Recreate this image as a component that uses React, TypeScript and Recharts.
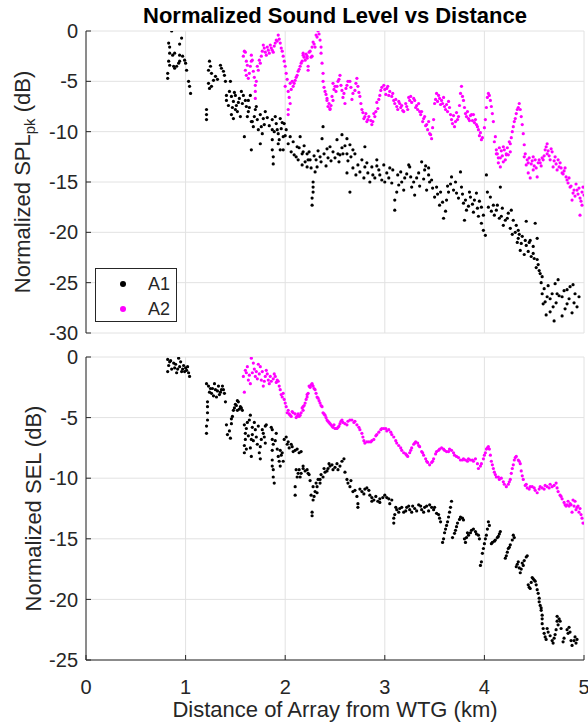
import React from 'react';
import { ScatterChart, Scatter, XAxis, YAxis, CartesianGrid, Legend, Label } from 'recharts';

const xTicks = [0, 1, 2, 3, 4, 5];
const splTicks = [-30, -25, -20, -15, -10, -5, 0];
const selTicks = [-25, -20, -15, -10, -5, 0];

// Normalized SPL_pk, array A1 (km, dB)
const splA1: [number, number][] = [
  [0.86,0],[0.83,-1.2],[0.84,-1.6],[0.94,-1.3],[0.96,-0.7],[0.84,-2.2],[0.87,-2.4],[0.89,-2.2],[0.83,-3.0],[0.84,-3.4],[0.88,-3.5],[0.91,-3.5],[0.93,-3.2],[0.94,-2.4],[0.97,-2.5],[0.99,-2.9],[1.0,-3.2],[1.01,-3.9],[0.82,-4.2],[0.82,-4.7],[1.03,-5.0],[1.04,-5.5],[1.05,-6.2],[0.89,-3.7],[0.94,-3.0],
  [1.21,-7.8],[1.21,-8.3],[1.21,-8.8],[1.24,-3.0],[1.25,-3.5],[1.23,-3.9],[1.26,-4.2],[1.23,-5.2],[1.24,-5.7],[1.28,-4.9],[1.30,-4.5],[1.32,-4.8],[1.35,-3.4],[1.36,-3.7],[1.38,-4.0],[1.39,-4.4],[1.40,-5.0],[1.45,-5.0],[1.26,-5.5],
  [1.41,-6.4],[1.41,-6.9],[1.43,-7.4],[1.46,-6.5],[1.48,-7.0],[1.50,-7.8],[1.46,-8.3],[1.48,-8.7],[1.51,-7.4],[1.54,-6.7],[1.56,-6.0],[1.58,-6.4],[1.60,-6.9],[1.61,-7.5],[1.63,-8.0],[1.59,-10.5],[1.66,-11.8],[1.68,-9.5],[1.67,-9.0],[1.70,-7.8],[1.71,-7.5],[1.75,-8.3],[1.76,-9.5],[1.75,-11.2],[1.78,-8.7],[1.80,-8.0],[1.55,-8.5],[1.63,-6.9],[1.65,-6.4],[1.50,-6.4],
  [1.44,-6.0],[1.47,-7.6],[1.49,-6.1],[1.52,-8.0],[1.53,-7.1],[1.57,-7.2],[1.62,-8.5],[1.64,-7.6],[1.66,-9.0],[1.69,-8.5],[1.72,-8.8],[1.73,-9.8],[1.77,-10.2],[1.79,-9.3],[1.82,-8.6],[1.84,-9.4],
  [1.87,-8.8],[1.87,-9.8],[1.87,-10.8],[1.87,-11.8],[1.88,-12.5],[1.88,-13.2],[1.90,-8.5],[1.91,-9.2],[1.93,-10.2],[1.95,-8.7],[1.96,-9.7],[1.98,-10.5],[1.99,-9.2],[2.01,-9.8],[1.93,-11.2],[1.95,-11.8],[1.98,-11.8],[2.05,-10.5],[2.08,-11.0],[2.12,-11.5],[2.15,-10.5],[2.11,-12.5],[2.13,-12.8],[2.17,-12.2],[2.22,-12.2],[2.25,-12.8],[2.22,-13.5],[2.32,-13.5],[2.35,-12.5],[2.38,-9.5],[2.37,-10.7],[2.42,-11.7],[2.45,-11.5],[2.48,-12.0],[2.53,-12.2],[2.43,-12.6],
  [1.89,-10.0],[1.92,-9.8],[1.94,-10.8],[1.97,-9.1],[2.00,-10.4],[2.03,-11.2],[2.06,-12.0],[2.09,-12.3],[2.14,-11.6],[2.19,-11.4],[2.20,-13.0],[2.24,-12.0],[2.26,-13.6],[2.29,-12.4],[2.31,-12.8],[2.33,-11.9],[2.36,-13.0],[2.39,-12.2],[2.41,-13.4],[2.46,-12.9],[2.50,-12.6],[2.54,-13.0],
  [2.17,-13.3],[2.30,-14.0],[2.28,-15.0],[2.28,-15.5],[2.28,-16.0],[2.27,-16.6],[2.27,-17.3],[2.18,-12.0],[2.23,-12.8],
  [2.52,-10.8],[2.57,-10.3],[2.62,-10.7],[2.65,-11.3],[2.68,-11.8],[2.80,-11.5],[2.58,-12.2],[2.92,-12.8],[3.25,-13.5],[3.44,-13.6],[2.55,-12.3],[2.62,-12.2],
  [2.57,-11.6],[2.60,-11.4],[2.63,-12.9],[2.66,-12.5],[2.70,-12.2],[2.71,-14.3],[2.75,-14.0],[2.77,-12.8],[2.80,-13.5],[2.83,-14.1],[2.87,-13.5],[2.90,-14.6],[2.92,-13.4],[2.95,-14.3],[2.99,-13.3],[3.00,-15.0],[3.04,-14.6],[3.07,-15.1],[3.08,-13.8],
  [2.65,-16.0],[2.62,-14.1],[2.68,-13.6],[2.73,-13.3],[2.79,-14.6],[2.82,-13.1],[2.85,-15.0],[2.88,-14.3],[2.94,-13.8],[2.97,-14.8],[3.02,-14.1],[3.05,-13.6],
  [3.10,-17.8],[3.10,-16.8],[3.12,-16.0],[3.14,-15.3],[3.17,-15.0],[3.20,-14.6],[3.24,-13.3],[3.27,-15.5],[3.30,-16.3],
  [3.13,-14.3],[3.16,-14.0],[3.19,-15.8],[3.22,-14.2],[3.26,-14.5],[3.29,-15.0],[3.32,-14.6],[3.35,-15.4],[3.39,-14.7],[3.41,-13.4],[3.45,-15.0],[3.48,-15.6],
  [3.34,-14.1],[3.37,-13.0],[3.40,-13.8],[3.44,-14.3],[3.47,-14.8],[3.42,-15.8],
  [3.50,-16.5],[3.52,-15.5],[3.55,-17.3],[3.59,-18.6],[3.61,-17.9],[3.62,-16.8],[3.64,-16.0],[3.67,-14.5],
  [3.53,-16.2],[3.56,-16.0],[3.58,-17.0],[3.63,-15.4],[3.66,-15.2],[3.69,-15.8],[3.71,-15.0],[3.74,-16.6],[3.78,-16.2],[3.81,-16.8],[3.84,-17.4],[3.85,-16.0],[3.88,-17.2],[3.90,-16.8],[3.93,-17.6],[3.95,-16.9],[3.99,-18.3],
  [3.72,-16.1],[3.76,-14.0],[3.77,-15.5],[3.79,-17.1],[3.80,-18.8],[3.82,-17.8],
  [3.86,-16.5],[3.89,-18.0],[3.92,-16.1],[3.94,-18.4],[3.97,-19.1],[3.99,-19.8],[4.01,-20.3],[3.97,-17.5],
  [4.02,-14.3],[4.06,-16.5],[4.09,-17.3],[4.12,-17.8],[4.16,-15.5],[4.17,-18.4],[4.21,-18.8],
  [4.03,-16.0],[4.04,-17.5],[4.07,-17.9],[4.10,-18.3],[4.13,-17.3],[4.15,-18.6],[4.18,-17.6],[4.19,-19.3],[4.23,-18.6],[4.26,-19.6],[4.28,-20.2],[4.31,-20.0],[4.33,-21.0],[4.35,-20.2],[4.38,-20.4],[4.40,-22.2],[4.41,-20.8],[4.45,-21.0],[4.47,-22.4],[4.50,-22.6],[4.52,-23.5],[4.55,-23.8],
  [4.24,-18.1],[4.27,-17.8],[4.29,-18.8],[4.32,-19.3],[4.34,-19.8],
  [4.34,-20.6],[4.37,-21.1],[4.36,-21.8],[4.42,-21.3],[4.46,-20.8],[4.49,-21.4],[4.44,-21.9],[4.53,-20.6],[4.42,-18.9],[4.51,-19.1],
  [4.49,-22.1],[4.53,-22.7],[4.54,-23.2],[4.56,-24.1],
  [4.58,-24.4],[4.58,-26.1],[4.59,-27.1],[4.63,-26.4],[4.68,-26.1],[4.71,-25.1],[4.74,-24.7],[4.73,-26.1],[4.78,-26.4],[4.83,-25.7],[4.86,-25.4],[4.91,-26.1],[4.93,-27.4],[4.69,-27.4],[4.83,-27.1],
  [4.57,-25.0],[4.60,-25.6],[4.61,-26.9],[4.64,-25.3],[4.66,-26.6],[4.72,-27.0],[4.75,-26.3],[4.80,-25.8],[4.81,-27.6],[4.85,-26.6],[4.89,-25.2],[4.90,-27.0],[4.95,-26.4],
  [4.62,-28.2],[4.70,-28.8],[4.78,-28.3],[4.88,-28.0],[4.66,-27.9],
];

// Normalized SPL_pk, array A2 (km, dB)
const splA2: [number, number][] = [
  [1.58,-2.5],[1.60,-2.1],[1.61,-3.0],[1.60,-3.9],[1.61,-4.4],[1.63,-4.7],[1.65,-3.5],[1.66,-2.4],[1.67,-2.9],[1.68,-4.0],[1.70,-5.4],[1.70,-6.0],[1.70,-6.7],[1.73,-3.9],[1.75,-3.2],[1.76,-2.5],[1.78,-1.4],[1.80,-2.1],[1.83,-1.9],[1.86,-1.7],[1.88,-2.1],[1.90,-1.2],[1.91,-0.9],[1.93,-0.4],[1.95,-1.2],[1.96,-1.7],[1.98,-2.5],[2.00,-3.5],[2.01,-4.2],[2.00,-5.5],[2.03,-6.0],[2.05,-5.2],[2.08,-5.5],[2.10,-4.9],[2.05,-7.2],[2.03,-7.8],[2.03,-8.3],[2.12,-4.4],[2.15,-3.5],[2.17,-3.0],[2.18,-2.4],[2.22,-2.5],[2.24,-2.1],[2.27,-1.6],[2.28,-1.1],[2.31,-0.4],[2.33,0],[2.23,-3.5],[2.35,-0.9],[2.36,-2.2],[2.37,-3.2],[2.38,-4.2],[2.38,-5.0],[2.40,-6.0],[2.42,-6.7],[2.43,-7.5],[2.45,-7.8],[2.48,-6.9],[2.50,-5.5],[2.53,-5.0],
  [1.59,-2.0],[1.62,-3.4],[1.64,-4.2],[1.66,-3.0],[1.69,-4.6],[1.71,-5.0],[1.72,-3.5],[1.74,-2.9],[1.77,-2.0],[1.79,-1.7],[1.81,-2.4],[1.82,-1.6],[1.84,-2.2],[1.85,-1.4],[1.87,-1.9],[1.89,-1.5],[1.92,-1.0],[1.94,-0.8],[1.97,-2.0],[1.99,-3.0],[2.02,-4.8],[2.04,-6.6],[2.06,-5.8],[2.07,-5.0],[2.09,-5.2],[2.11,-4.6],[2.13,-4.0],[2.14,-3.8],[2.16,-3.2],[2.19,-2.6],[2.20,-2.9],[2.21,-2.3],[2.25,-2.0],[2.26,-2.6],[2.29,-1.3],[2.32,-0.6],[2.34,-0.3],
  [2.18,-2.2],[2.22,-2.7],[2.23,-3.9],[2.27,-2.5],[2.30,-1.6],[2.36,-1.6],[2.42,-6.9],[2.45,-7.7],[2.48,-5.2],[2.52,-5.5],[2.55,-4.4],[2.57,-5.9],[2.60,-7.2],[2.62,-5.4],[2.65,-5.0],[2.68,-6.2],[2.72,-4.7],[2.75,-6.5],[2.77,-7.8],[2.80,-8.5],[2.83,-8.8],[2.87,-9.3],[2.90,-8.5],[2.93,-7.7],[2.95,-6.4],[2.99,-5.4],[3.02,-5.7],[3.05,-6.0],[3.09,-6.9],[3.12,-7.5],[3.15,-7.2],[3.19,-8.0],[3.22,-7.5],[3.25,-6.9],[3.29,-6.7],[3.32,-7.4],[3.35,-8.0],[3.39,-8.7],[3.42,-9.3],[3.45,-10.2],[3.47,-10.7],[3.49,-8.8],[3.50,-7.2],[3.54,-6.4],[3.57,-6.9],[3.60,-7.5],[3.64,-7.0],[3.67,-8.8],[3.70,-9.5],[3.74,-8.5],[3.77,-5.5],[3.79,-6.9],[3.81,-8.2],[3.84,-8.7],[3.87,-8.3],[3.91,-8.8],[3.94,-9.8],[3.97,-10.8],[4.01,-8.8],[4.04,-6.2],[4.06,-6.9],[4.08,-8.2],[4.11,-10.5],[4.13,-12.2],[4.16,-13.5],[4.19,-11.5],[4.22,-12.2],[4.26,-11.2],[4.29,-9.5],[4.32,-8.2],[4.35,-7.2],[4.37,-8.5],[4.39,-10.2],[4.41,-12.2],[4.44,-13.1],[4.49,-12.5],[4.54,-13.1],[4.59,-12.8],[4.63,-11.2],[4.67,-11.7],[4.71,-12.5],[4.76,-13.1],[4.81,-13.6],
  [2.39,-5.6],[2.41,-6.3],[2.44,-7.2],[2.46,-7.4],[2.47,-6.5],[2.49,-5.8],[2.51,-6.0],[2.54,-4.8],[2.56,-5.4],[2.58,-6.6],[2.59,-6.2],[2.61,-5.7],[2.63,-5.0],[2.66,-5.6],[2.67,-6.8],[2.70,-5.9],[2.71,-5.2],[2.73,-5.5],[2.74,-6.1],[2.76,-7.2],[2.78,-8.1],[2.79,-8.7],[2.81,-8.2],[2.82,-9.0],[2.84,-8.5],[2.86,-8.9],[2.88,-9.0],[2.89,-8.2],[2.91,-8.0],[2.92,-7.1],[2.94,-6.8],[2.96,-5.9],[2.97,-5.6],[3.00,-5.8],[3.01,-6.3],[3.03,-5.5],[3.04,-6.4],[3.07,-6.5],[3.08,-6.2],[3.10,-7.2],[3.11,-6.8],[3.13,-7.8],[3.14,-7.0],[3.16,-7.6],[3.17,-7.4],[3.18,-7.9],[3.21,-7.2],[3.23,-7.8],[3.24,-6.6],[3.26,-6.5],[3.27,-7.1],[3.30,-6.9],[3.31,-7.6],[3.33,-7.8],[3.34,-7.2],[3.36,-8.3],[3.37,-8.0],[3.38,-9.0],[3.40,-8.5],[3.41,-9.4],[3.43,-9.8],[3.44,-9.0],[3.46,-10.3],[3.48,-9.6],
  [3.51,-6.8],[3.52,-6.2],[3.53,-7.0],[3.55,-6.7],[3.56,-7.3],[3.58,-7.2],[3.59,-6.6],[3.61,-7.8],[3.62,-7.3],[3.63,-8.0],[3.65,-7.6],[3.66,-8.3],[3.68,-9.2],[3.69,-8.4],[3.71,-9.0],[3.72,-8.1],[3.73,-8.8],[3.75,-7.4],[3.76,-6.2],[3.78,-6.5],[3.80,-7.6],[3.82,-8.5],[3.83,-8.0],[3.85,-8.9],[3.86,-8.4],[3.88,-8.9],[3.89,-8.3],[3.90,-9.1],[3.92,-9.3],[3.93,-9.5],[3.95,-10.4],[3.96,-10.1],[3.98,-10.6],[4.00,-9.6],[4.02,-7.6],[4.03,-6.6],[4.05,-6.4],[4.07,-7.5],[4.09,-9.0],[4.10,-11.0],
  [4.12,-11.8],[4.14,-12.6],[4.15,-11.6],[4.17,-11.9],[4.18,-12.4],[4.20,-11.8],[4.21,-12.8],[4.23,-11.6],[4.24,-12.3],[4.25,-11.0],[4.27,-10.6],[4.28,-10.0],[4.30,-9.0],[4.31,-8.7],[4.33,-7.8],[4.34,-7.6],[4.36,-7.8],[4.38,-9.3],[4.40,-11.3],[4.43,-12.8],[4.45,-12.6],[4.47,-13.2],[4.48,-12.9],[4.50,-13.4],[4.51,-12.8],[4.52,-13.6],[4.55,-12.8],[4.57,-13.4],[4.58,-12.6],[4.60,-12.4],[4.61,-11.8],[4.62,-11.5],[4.64,-11.9],[4.65,-12.4],[4.68,-12.0],[4.70,-12.9],[4.72,-13.2],[4.74,-12.8],[4.75,-13.5],[4.77,-13.6],[4.79,-14.2],[4.80,-13.9],[4.82,-14.5],[4.84,-15.1],[4.85,-14.6],[4.87,-15.4],[4.90,-15.8],[4.91,-16.4],[4.92,-15.2],[4.94,-16.2],[4.95,-15.6],[4.97,-16.9],[4.98,-16.0],[5.0,-16.3],
  [4.12,-12.2],[4.16,-12.6],[4.19,-13.0],[4.22,-12.3],[4.26,-12.0],[4.14,-13.1],[4.40,-12.5],[4.42,-13.3],[4.44,-14.1],[4.46,-14.6],[4.49,-13.8],[4.53,-14.5],[4.56,-13.1],[4.63,-12.2],[4.66,-12.8],[4.69,-13.5],[4.73,-13.8],[4.78,-14.1],[4.83,-14.8],[4.86,-15.5],[4.89,-16.1],[4.93,-15.8],[4.96,-16.6],[4.99,-15.5],[4.96,-18.3],[4.98,-17.3],[4.88,-16.8],
];

// Normalized SEL, array A1 (km, dB)
const selA1: [number, number][] = [
  [0.82,-0.2],[0.83,-0.7],[0.82,-1.2],[0.84,-0.4],[0.88,-0.5],[0.89,-0.9],[0.91,-1.3],[0.93,-0.1],[0.94,-0.8],[0.96,-1.2],[0.98,-0.7],[1.00,-0.9],[1.03,-1.3],[1.04,-1.6],
  [0.85,-0.3],[0.86,-1.0],[0.90,-0.6],[0.92,-1.0],[0.95,-0.4],[0.97,-1.0],[0.99,-1.2],[1.01,-1.1],[1.02,-0.8],
  [1.21,-2.2],[1.22,-3.7],[1.22,-4.1],[1.22,-4.6],[1.22,-5.2],[1.21,-5.7],[1.21,-6.3],[1.25,-2.6],[1.26,-3.0],[1.30,-2.7],[1.31,-3.3],[1.33,-2.4],[1.35,-2.9],[1.37,-2.4],[1.39,-3.0],[1.40,-3.7],
  [1.23,-2.4],[1.24,-2.9],[1.27,-2.6],[1.28,-3.2],[1.29,-2.2],[1.32,-2.8],[1.34,-3.1],[1.36,-2.7],[1.38,-2.7],
  [1.41,-5.6],[1.42,-6.4],[1.45,-6.7],[1.46,-5.5],[1.47,-4.9],[1.49,-4.2],[1.51,-4.0],[1.53,-3.7],[1.55,-4.1],[1.57,-4.4],[1.52,-4.4],
  [1.48,-4.4],[1.50,-3.9],[1.52,-3.6],[1.54,-4.3],[1.56,-4.2],[1.46,-5.1],[1.44,-6.1],
  [1.59,-5.6],[1.60,-6.3],[1.59,-7.3],[1.59,-7.9],[1.61,-5.9],[1.64,-5.2],[1.65,-4.8],[1.66,-6.8],[1.67,-6.4],[1.66,-8.2],[1.70,-6.0],[1.73,-5.7],[1.75,-8.4],[1.75,-7.4],[1.76,-6.8],[1.78,-6.3],[1.80,-5.7],[1.81,-5.6],
  [1.60,-6.8],[1.61,-7.6],[1.62,-5.4],[1.63,-6.5],[1.65,-7.5],[1.67,-5.8],[1.68,-6.9],[1.69,-5.4],[1.71,-6.6],[1.72,-7.2],[1.74,-7.9],[1.77,-6.0],[1.79,-6.6],[1.80,-7.1],
  [1.87,-6.0],[1.87,-6.8],[1.87,-7.7],[1.87,-8.5],[1.88,-9.3],[1.88,-9.9],[1.89,-10.4],[1.91,-6.3],[1.93,-8.2],[1.95,-7.7],[1.96,-8.1],[1.98,-8.6],[1.95,-9.0],[2.01,-6.6],[2.03,-7.0],[2.07,-7.4],[2.10,-7.7],[2.16,-7.8],
  [1.86,-5.8],[1.87,-9.0],[1.88,-7.2],[1.90,-6.9],[1.92,-7.6],[1.94,-8.6],[1.97,-7.9],[1.99,-6.8],[2.02,-7.2],[2.04,-7.5],[2.06,-7.2],[2.08,-7.8],[2.12,-7.6],[2.14,-7.9],
  [2.11,-9.3],[2.13,-9.6],[2.15,-9.9],[2.10,-10.7],[2.10,-11.4],[2.18,-9.2],[2.22,-9.3],[2.24,-9.7],
  [2.12,-9.9],[2.14,-9.3],[2.16,-9.6],[2.20,-9.4],[2.25,-10.2],[2.26,-11.4],[2.29,-11.5],[2.31,-10.4],[2.33,-10.1],[2.36,-9.7],[2.39,-9.2],[2.42,-9.4],[2.44,-8.8],[2.50,-9.1],[2.53,-9.3],[2.57,-8.6],[2.60,-9.5],[2.63,-10.4],[2.66,-10.2],[2.70,-11.0],[2.75,-10.9],[2.79,-11.3],[2.80,-10.9],[2.84,-11.0],[2.87,-11.6],[2.91,-11.5],[2.93,-11.9],[2.98,-11.6],[3.02,-11.6],[3.05,-12.1],
  [2.28,-11.8],[2.30,-11.1],[2.32,-10.7],[2.35,-10.1],[2.38,-9.9],[2.40,-9.5],[2.43,-9.2],[2.47,-8.9],[2.52,-8.8],[2.55,-9.0],
  [2.18,-9.0],[2.23,-9.6],[2.28,-10.7],[2.32,-11.2],[2.35,-10.4],[2.45,-9.0],[2.48,-9.3],[2.59,-8.4],[2.62,-10.1],[2.65,-10.7],[2.68,-11.1],[2.72,-11.5],[2.73,-12.1],[2.77,-11.1],[2.82,-10.8],[2.85,-11.4],[2.89,-11.8],[2.95,-11.7],[3.00,-11.4],[3.04,-11.7],[3.07,-11.8],
  [2.27,-12.8],[2.27,-13.1],[2.73,-12.4],[2.87,-11.9],[2.95,-12.0],[3.09,-13.3],[3.09,-13.7],[3.12,-12.6],[3.15,-12.5],[3.19,-12.8],[3.22,-12.4],[3.25,-12.6],[3.30,-12.5],[3.34,-12.2],[3.37,-12.6],[3.40,-12.4],[3.45,-12.2],[3.49,-12.6],[3.52,-12.9],[3.55,-13.3],
  [3.10,-13.0],[3.11,-12.4],[3.14,-12.8],[3.17,-12.4],[3.21,-12.7],[3.24,-12.3],[3.27,-12.8],[3.28,-12.3],[3.32,-12.7],[3.36,-12.3],[3.39,-12.8],[3.42,-12.3],[3.44,-12.7],[3.47,-12.4],[3.50,-12.4],[3.54,-13.0],[3.56,-13.6],
  [3.58,-15.3],[3.60,-14.5],[3.62,-13.9],[3.64,-13.2],[3.66,-12.4],[3.67,-11.9],[3.70,-14.55],[3.72,-14.0],[3.76,-13.2],[3.79,-13.45],[3.81,-15.3],[3.84,-14.7],[3.87,-14.3],[3.91,-14.4],[3.94,-14.7],
  [3.59,-15.0],[3.61,-14.2],[3.63,-13.6],[3.65,-12.8],[3.68,-14.9],[3.71,-14.3],[3.73,-13.7],[3.75,-13.4],[3.78,-13.3],[3.80,-15.0],[3.82,-14.9],[3.83,-14.5],[3.86,-14.5],[3.89,-14.2],[3.92,-14.6],[3.95,-15.0],[3.96,-17.2],
  [3.97,-16.9],[3.98,-16.2],[4.00,-15.4],[4.02,-14.7],[4.04,-13.6],[4.07,-15.4],[4.11,-15.1],[4.14,-14.8],[4.16,-14.4],
  [3.99,-15.8],[4.01,-15.0],[4.03,-14.2],[4.05,-13.9],[4.08,-15.3],[4.10,-15.2],[4.13,-14.9],[4.15,-14.6],
  [4.21,-16.6],[4.23,-16.1],[4.26,-15.5],[4.29,-14.7],[4.32,-17.3],[4.34,-16.9],[4.36,-17.8],[4.39,-17.2],[4.42,-16.5],
  [4.22,-16.4],[4.24,-15.8],[4.25,-15.7],[4.28,-15.1],[4.30,-14.9],[4.33,-17.1],[4.35,-17.4],[4.37,-17.5],[4.38,-17.0],[4.40,-16.8],[4.43,-16.4],
  [4.44,-18.8],[4.46,-19.1],[4.49,-18.3],[4.51,-18.5],[4.53,-19.2],[4.55,-19.9],[4.56,-20.5],[4.57,-20.9],[4.58,-21.3],
  [4.45,-19.0],[4.47,-18.6],[4.48,-18.2],[4.50,-18.4],[4.52,-18.8],[4.54,-19.5],[4.55,-20.2],[4.57,-20.7],[4.58,-21.6],[4.58,-22.0],
  [4.59,-22.4],[4.61,-23.1],[4.64,-22.7],[4.68,-23.4],[4.69,-23.6],[4.71,-22.9],[4.73,-21.4],[4.74,-22.1],[4.76,-21.8],[4.79,-23.5],[4.84,-22.8],[4.85,-22.3],[4.88,-23.8],[4.91,-23.1],[4.92,-23.6],
  [4.60,-22.8],[4.62,-23.3],[4.63,-22.4],[4.66,-23.0],[4.70,-23.2],[4.72,-22.5],[4.73,-21.8],[4.75,-21.6],[4.77,-22.4],[4.80,-23.2],[4.83,-22.5],[4.86,-22.7],[4.87,-23.4],[4.90,-23.4],[4.93,-23.3],
];

// Normalized SEL, array A2 (km, dB)
const selA2: [number, number][] = [
  [1.58,-1.6],[1.60,-1.1],[1.59,-2.9],[1.61,-1.3],[1.63,-1.9],[1.66,-0.1],[1.68,-0.5],[1.67,-1.3],[1.70,-1.6],[1.71,-1.2],[1.75,-0.8],[1.76,-1.9],[1.78,-2.4],[1.80,-1.6],[1.81,-1.1],[1.83,-1.9],[1.86,-2.0],[1.90,-1.6],[1.92,-1.9],[1.94,-2.4],[1.96,-3.1],[1.99,-3.5],[2.01,-4.1],[2.02,-4.6],[2.05,-4.8],[2.08,-4.6],[2.12,-4.9],[2.15,-4.8],[2.18,-4.4],[2.20,-3.8],[2.23,-3.0],[2.27,-2.3],[2.30,-2.7],[2.32,-3.3],[2.35,-3.8],[2.38,-4.6],[2.42,-5.2],[2.46,-5.6],[2.50,-5.9],[2.54,-5.7],
  [1.62,-0.8],[1.64,-1.5],[1.65,-2.2],[1.69,-1.0],[1.72,-1.8],[1.73,-0.6],[1.74,-1.4],[1.77,-1.2],[1.79,-2.0],[1.82,-1.4],[1.84,-2.2],[1.85,-1.6],[1.88,-1.8],[1.89,-1.4],[1.91,-2.1],[1.93,-2.0],[1.95,-2.7],[1.97,-3.3],[1.98,-3.0],[2.00,-3.8],[2.03,-4.4],[2.04,-4.7],[2.06,-4.9],[2.07,-4.5],[2.10,-4.7],[2.11,-5.0],[2.13,-4.7],[2.14,-4.9],[2.16,-4.6],[2.17,-4.2],[2.19,-4.0],[2.21,-3.5],[2.22,-3.3],[2.25,-2.5],[2.26,-2.3],[2.28,-2.4],[2.29,-2.6],[2.31,-3.0],[2.34,-3.6],[2.36,-4.0],[2.39,-4.7],[2.41,-5.0],[2.44,-5.4],[2.45,-5.5],[2.48,-5.8],[2.49,-5.6],[2.51,-5.9],[2.53,-5.8],
  [2.18,-4.1],[2.22,-3.1],[2.24,-2.4],[2.27,-2.2],[2.33,-3.4],[2.37,-4.1],[2.40,-4.8],[2.43,-5.3],[2.47,-5.7],[2.52,-5.9],[2.57,-5.2],[2.62,-5.6],[2.67,-5.2],[2.72,-5.6],[2.77,-6.3],[2.80,-7.1],[2.84,-7.0],[2.89,-6.8],[2.94,-6.2],[2.99,-5.9],[3.04,-6.0],[3.09,-6.6],[3.14,-7.3],[3.19,-7.9],[3.23,-8.2],[3.27,-7.5],[3.31,-7.0],[3.35,-7.4],[3.39,-8.1],[3.42,-8.6],[3.45,-8.9],[3.49,-8.4],[3.52,-7.8],[3.57,-7.5],[3.62,-7.8],[3.67,-7.7],[3.72,-8.2],[3.76,-8.5],[3.81,-8.5],[3.86,-8.5],[3.91,-8.4],[3.94,-9.2],[3.97,-8.8],[4.01,-7.9],[4.04,-7.4],[4.06,-8.1],[4.09,-9.2],[4.12,-9.9],[4.17,-10.0],[4.22,-10.7],[4.26,-10.1],[4.29,-8.9],[4.32,-8.2],[4.36,-8.8],[4.39,-10.1],[4.43,-10.8],[4.48,-10.7],[4.53,-11.2],[4.58,-10.8],[4.63,-10.7],[4.68,-10.7],[4.72,-10.4],[4.74,-11.1],[4.78,-11.7],[4.81,-12.2],[4.86,-12.1],[4.91,-11.9],[4.94,-12.3],
  [2.55,-5.5],[2.56,-5.3],[2.58,-5.4],[2.60,-5.5],[2.63,-5.3],[2.65,-5.2],[2.69,-5.4],[2.70,-5.3],[2.74,-5.8],[2.75,-6.0],[2.78,-6.6],[2.79,-6.9],[2.82,-7.0],[2.86,-7.0],[2.87,-6.9],[2.91,-6.5],[2.92,-6.4],[2.96,-6.0],[2.97,-5.9],[3.01,-5.9],[3.02,-6.1],[3.06,-6.2],[3.07,-6.4],[3.11,-6.9],[3.12,-7.1],[3.16,-7.5],[3.17,-7.7],[3.21,-8.0],[3.22,-8.1],[3.25,-7.9],[3.26,-7.7],[3.29,-7.2],[3.30,-7.1],[3.33,-7.1],[3.34,-7.3],[3.37,-7.8],[3.38,-7.9],[3.41,-8.4],[3.43,-8.7],[3.47,-8.7],[3.48,-8.6],[3.51,-8.0],[3.54,-7.7],[3.55,-7.6],[3.59,-7.6],[3.60,-7.7],[3.64,-7.8],[3.65,-7.6],[3.69,-7.9],[3.70,-8.1],[3.74,-8.3],[3.78,-8.5],[3.79,-8.4],[3.83,-8.6],[3.84,-8.4],[3.88,-8.5],[3.89,-8.6],[3.93,-8.8],[3.96,-9.0],[3.99,-8.4],[4.00,-8.1],[4.02,-7.6],[4.03,-7.5],[4.05,-7.6],[4.07,-8.6],[4.08,-8.9],[4.10,-9.5],[4.11,-9.7],[4.14,-9.9],[4.15,-10.1],[4.19,-10.3],[4.20,-10.5],[4.24,-10.5],[4.25,-10.3],[4.27,-9.6],[4.28,-9.2],[4.30,-8.5],[4.31,-8.3],[4.34,-8.5],[4.35,-8.6],[4.37,-9.4],[4.38,-9.8],[4.41,-10.6],[4.42,-10.5],[4.45,-10.9],[4.46,-10.7],[4.50,-10.8],[4.51,-11.0],[4.55,-10.9],[4.56,-10.7],[4.60,-10.9],[4.61,-10.6],[4.65,-10.8],[4.66,-10.5],[4.70,-10.6],[4.73,-10.8],[4.76,-11.4],[4.77,-11.5],[4.80,-12.0],[4.82,-12.3],[4.84,-11.9],[4.85,-12.3],[4.87,-12.2],[4.89,-11.8],[4.90,-12.3],[4.92,-12.6],[4.95,-12.8],[4.96,-12.5],[4.97,-13.0],
  [4.83,-12.2],[4.88,-12.8],[4.93,-12.4],[4.98,-13.3],[4.99,-13.7],
];

const toPts = (arr: [number, number][]) => arr.map(([x, y]) => ({ x, y }));

const FONT = '"Liberation Sans", Arial, Helvetica, sans-serif';
const AX = '#262626';
const GRID = '#e2e2e2';
const C_A1 = '#000000';
const C_A2 = '#ff00ff';

const dot = (color: string) => (p: any) => (
  <circle cx={p.cx} cy={p.cy} r={1.6} fill={color} stroke="none" />
);

const LeftTick = (p: any) => (
  <g>
    <line x1={p.x + 8} x2={p.x + 13} y1={p.y} y2={p.y} stroke={AX} />
    <text x={p.x} y={p.y} dy="0.355em" textAnchor="end" fontSize={20} fontFamily={FONT} fill={AX}>
      {p.payload.value}
    </text>
  </g>
);
const RightTick = (p: any) => (
  <line x1={p.x} x2={p.x - 5} y1={p.y} y2={p.y} stroke={AX} />
);
const TopTick = (p: any) => (
  <line x1={p.x} x2={p.x} y1={p.y} y2={p.y + 5} stroke={AX} />
);
const BottomTickNoLabel = (p: any) => (
  <line x1={p.x} x2={p.x} y1={p.y} y2={p.y - 5} stroke={AX} />
);
const BottomTick = (p: any) => (
  <g>
    <line x1={p.x} x2={p.x} y1={p.y - 20} y2={p.y - 25} stroke={AX} />
    <text x={p.x} y={p.y} dy="0.71em" textAnchor="middle" fontSize={20} fontFamily={FONT} fill={AX}>
      {p.payload.value}
    </text>
  </g>
);

const LegendBox = (props: any) => {
  const items = props.payload || [];
  return (
    <div
      style={{
        width: 80,
        height: 52,
        border: `1px solid ${AX}`,
        background: '#fff',
        fontFamily: FONT,
        fontSize: 18,
        color: AX,
        position: 'relative',
      }}
    >
      {items.map((it: any, i: number) => (
        <div key={i} style={{ position: 'absolute', left: 0, top: 4 + i * 25, height: 22, width: 80 }}>
          <svg width={20} height={22} style={{ position: 'absolute', left: 17, top: 0 }}>
            <circle cx={10} cy={11} r={3} fill={it.color} />
          </svg>
          <span style={{ position: 'absolute', left: 52, top: 1, lineHeight: '20px' }}>{it.value}</span>
        </div>
      ))}
    </div>
  );
};

const YLabelTop = (props: any) => {
  const vb = props.viewBox || { x: 0, y: 31, width: 86, height: 302 };
  const cx = vb.x + 30;
  const cy = vb.y + vb.height / 2;
  return (
    <text
      x={cx}
      y={cy}
      transform={`rotate(-90, ${cx}, ${cy})`}
      textAnchor="middle"
      fontSize={22}
      fontFamily={FONT}
      fill={AX}
    >
      Normalized SPL
      <tspan fontSize={15} dy={5}>pk</tspan>
      <tspan fontSize={22} dy={-5}> (dB)</tspan>
    </text>
  );
};

const YLabelBottom = (props: any) => {
  const vb = props.viewBox || { x: 0, y: 357, width: 86, height: 303 };
  const cx = vb.x + 41;
  const cy = vb.y + vb.height / 2;
  return (
    <text
      x={cx}
      y={cy}
      transform={`rotate(-90, ${cx}, ${cy})`}
      textAnchor="middle"
      fontSize={22}
      fontFamily={FONT}
      fill={AX}
    >
      Normalized SEL (dB)
    </text>
  );
};

const XLabel = (props: any) => {
  const vb = props.viewBox || { x: 86, y: 660, width: 498, height: 66 };
  return (
    <text
      x={vb.x + vb.width / 2}
      y={vb.y + 57}
      textAnchor="middle"
      fontSize={22}
      fontFamily={FONT}
      fill={AX}
    >
      Distance of Array from WTG (km)
    </text>
  );
};

export default function App() {
  return (
    <div style={{ position: 'absolute', left: 0, top: 0, width: 588, height: 726, background: '#fff' }}>
      <div style={{ position: 'absolute', left: 0, top: 0 }}>
        <ScatterChart width={588} height={345} margin={{ top: 31, right: 4, left: 0, bottom: 12 }}>
          <CartesianGrid stroke={GRID} strokeDasharray="" horizontalValues={splTicks} verticalValues={xTicks} />
          <XAxis
            dataKey="x"
            type="number"
            domain={[0, 5]}
            ticks={xTicks}
            interval={0}
            height={0}
            tickSize={0}
            tickMargin={0}
            tick={BottomTickNoLabel}
            axisLine={{ stroke: AX }}
            allowDataOverflow
          />
          <XAxis
            xAxisId="t"
            orientation="top"
            type="number"
            domain={[0, 5]}
            ticks={xTicks}
            interval={0}
            height={0}
            tickSize={0}
            tickMargin={0}
            tick={TopTick}
            axisLine={{ stroke: AX }}
            allowDataOverflow
          />
          <YAxis
            dataKey="y"
            type="number"
            domain={[-30, 0]}
            ticks={splTicks}
            interval={0}
            width={86}
            tickSize={0}
            tickMargin={8}
            tick={LeftTick}
            axisLine={{ stroke: AX }}
            allowDataOverflow
          >
            <Label content={YLabelTop} />
          </YAxis>
          <YAxis
            yAxisId="r"
            orientation="right"
            type="number"
            domain={[-30, 0]}
            ticks={splTicks}
            interval={0}
            width={0}
            tickSize={0}
            tickMargin={0}
            tick={RightTick}
            axisLine={{ stroke: AX }}
            allowDataOverflow
          />
          <Legend
            layout="horizontal"
            verticalAlign="middle"
            align="center"
            content={LegendBox}
            wrapperStyle={{ position: 'absolute', left: 95, top: 268, width: 82, height: 54 }}
          />
          <Scatter name="A1" data={toPts(splA1)} fill={C_A1} shape={dot(C_A1)} isAnimationActive={false} />
          <Scatter name="A2" data={toPts(splA2)} fill={C_A2} shape={dot(C_A2)} isAnimationActive={false} />
        </ScatterChart>
      </div>
      <div style={{ position: 'absolute', left: 0, top: 345 }}>
        <ScatterChart width={588} height={381} margin={{ top: 12, right: 4, left: 0, bottom: 0 }}>
          <CartesianGrid stroke={GRID} strokeDasharray="" horizontalValues={selTicks} verticalValues={xTicks} />
          <XAxis
            dataKey="x"
            type="number"
            domain={[0, 5]}
            ticks={xTicks}
            interval={0}
            height={66}
            tickSize={0}
            tickMargin={20}
            tick={BottomTick}
            axisLine={{ stroke: AX }}
            allowDataOverflow
          >
            <Label content={XLabel} />
          </XAxis>
          <XAxis
            xAxisId="t"
            orientation="top"
            type="number"
            domain={[0, 5]}
            ticks={xTicks}
            interval={0}
            height={0}
            tickSize={0}
            tickMargin={0}
            tick={TopTick}
            axisLine={{ stroke: AX }}
            allowDataOverflow
          />
          <YAxis
            dataKey="y"
            type="number"
            domain={[-25, 0]}
            ticks={selTicks}
            interval={0}
            width={86}
            tickSize={0}
            tickMargin={8}
            tick={LeftTick}
            axisLine={{ stroke: AX }}
            allowDataOverflow
          >
            <Label content={YLabelBottom} />
          </YAxis>
          <YAxis
            yAxisId="r"
            orientation="right"
            type="number"
            domain={[-25, 0]}
            ticks={selTicks}
            interval={0}
            width={0}
            tickSize={0}
            tickMargin={0}
            tick={RightTick}
            axisLine={{ stroke: AX }}
            allowDataOverflow
          />
          <Scatter name="A1" data={toPts(selA1)} fill={C_A1} shape={dot(C_A1)} isAnimationActive={false} />
          <Scatter name="A2" data={toPts(selA2)} fill={C_A2} shape={dot(C_A2)} isAnimationActive={false} />
        </ScatterChart>
      </div>
      <svg style={{ position: 'absolute', left: 0, top: 0 }} width={588} height={31}>
        <text x={335} y={23} textAnchor="middle" fontSize={22} fontWeight="bold" fontFamily={FONT} fill="#000">
          Normalized Sound Level vs Distance
        </text>
      </svg>
    </div>
  );
}
